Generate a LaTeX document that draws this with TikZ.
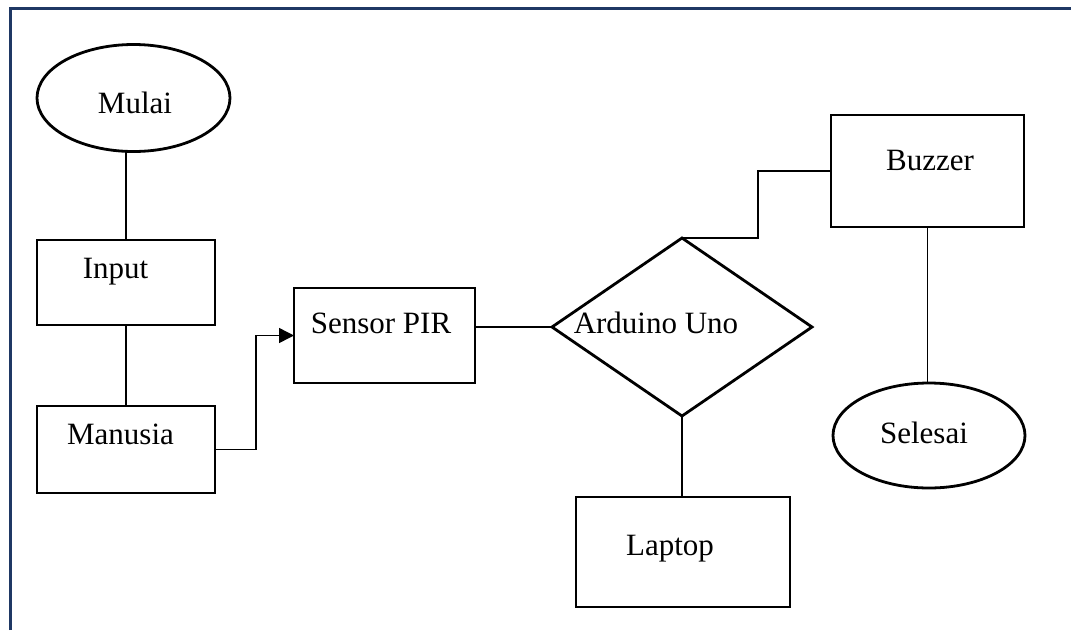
\documentclass[tikz,border=0pt]{standalone}
\usepackage{fontspec}
\setmainfont{Liberation Serif}
\newfontfamily\lblfont{Liberation Serif}
\usetikzlibrary{shapes.geometric,arrows.meta}
\definecolor{framenavy}{RGB}{31,56,100}
\begin{document}
\begin{tikzpicture}[x=1pt,y=-1pt,
  shp/.style={draw=black,line width=2.8pt,inner sep=0pt,outer sep=0pt},
  boxshape/.style={shp,rectangle},
  ovalshape/.style={shp,ellipse},
  decshape/.style={shp,diamond},
  lbl/.style={anchor=base,inner sep=0pt,font=\lblfont\fontsize{31}{37}\selectfont},
  conn/.style={draw=black,line width=1.5pt}]
\useasboundingbox (0,0) rectangle (1071,630);
\draw[framenavy,line width=3pt] (10,630) -- (10,8) -- (1071,8);

\node[ovalshape,minimum width=193pt,minimum height=107pt] (mulai) at (133.5,98) {};
\node[boxshape,minimum width=178pt,minimum height=85pt] (input) at (126,282.5) {};
\node[boxshape,minimum width=178pt,minimum height=87pt] (manusia) at (126,449.5) {};
\node[boxshape,minimum width=181pt,minimum height=95pt] (sensor) at (384.5,335.5) {};
\node[decshape,minimum width=260pt,minimum height=178pt] (ard) at (682,327) {};
\node[boxshape,minimum width=214pt,minimum height=110pt] (laptop) at (683,552) {};
\node[boxshape,minimum width=193pt,minimum height=112pt] (buzzer) at (927.5,171) {};
\node[ovalshape,minimum width=192pt,minimum height=105pt] (selesai) at (929,435.5) {};

\node[lbl] (tmulai) at (135,113) {Mulai};
\node[lbl] (tinput) at (115.5,278) {Input};
\node[lbl] (tmanusia) at (120.5,444) {Manusia};
\node[lbl] (tsensor) at (381,333) {Sensor PIR};
\node[lbl] (tard) at (656,333) {Arduino Uno};
\node[lbl] (tbuzzer) at (930,170) {Buzzer};
\node[lbl] (tselesai) at (924,443) {Selesai};
\node[lbl] (tlaptop) at (670,555) {Laptop};

\draw[conn] (input.north) -- (input.north |- mulai.south);
\draw[conn] (input.south) -- (manusia.north);
\draw[conn,-{Triangle[length=15pt,width=15pt]}] (manusia.east) -- ++(41,0) |- (sensor.west);
\draw[conn] (sensor.east |- ard.west) -- (ard.west);
\draw[conn] (ard.north) -- ++(76,0) |- (buzzer.west);
\draw[conn] (buzzer.south) -- (buzzer.south |- selesai.north);
\draw[conn] (ard.south) -- (ard.south |- laptop.north);
\end{tikzpicture}
\end{document}
